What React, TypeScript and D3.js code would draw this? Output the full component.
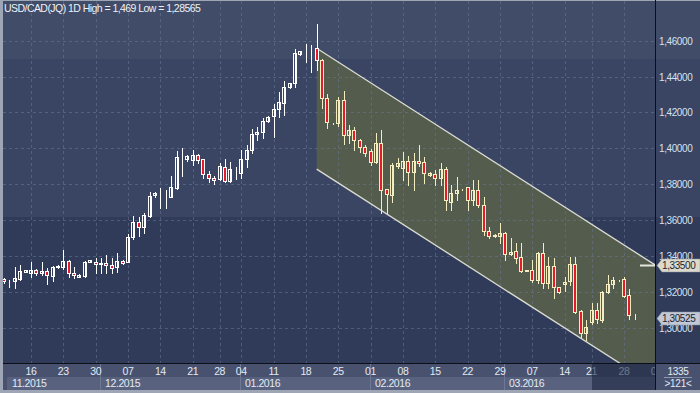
import React from "react";
import * as d3 from "d3";

const TITLE = "USD/CAD(JQ) 1D High = 1,469 Low = 1,28565";
const START_DATE = "2015-11-10";
const HOLIDAYS = ["2015-12-25", "2016-01-01", "2016-01-03", "2016-03-20"];
const FUTURE_DAYS = 4;

const OPEN = [
  1.3270, 1.3255, 1.3262, 1.3273, 1.3312, 1.3306, 1.3320, 1.3305, 1.3314, 1.3290,
  1.3336, 1.3336, 1.3372, 1.3306, 1.3284, 1.3288, 1.3368, 1.3364, 1.3353, 1.3360,
  1.3349, 1.3336, 1.3370, 1.3368, 1.3507, 1.3587, 1.3563, 1.3623, 1.3738, 1.3733,
  1.3735, 1.3730, 1.3780, 1.3950, 1.3942, 1.3935, 1.3963, 1.3939, 1.3857, 1.3833,
  1.3827, 1.3897, 1.3819, 1.3882, 1.3861, 1.3939, 1.3991, 1.4078, 1.4093, 1.4151,
  1.4180, 1.4221, 1.4254, 1.4344, 1.4362, 1.4526, 1.4562, 1.4566, 1.4558, 1.4492,
  1.4279, 1.4139, 1.4139, 1.4269, 1.4074, 1.4102, 1.4046, 1.4009, 1.3987, 1.3925,
  1.4028, 1.3771, 1.3740, 1.3903, 1.3889, 1.3931, 1.3870, 1.3931, 1.3922, 1.3851,
  1.3855, 1.3833, 1.3883, 1.3702, 1.3749, 1.3771, 1.3783, 1.3712, 1.3768, 1.3684,
  1.3539, 1.3511, 1.3511, 1.3529, 1.3409, 1.3427, 1.3396, 1.3316, 1.3321, 1.3266,
  1.3415, 1.3247, 1.3344, 1.3225, 1.3243, 1.3262, 1.3355, 1.3094, 1.2968, 1.3033,
  1.3098, 1.3043, 1.3200, 1.3243, 1.3264, 1.3270, 1.3180, 1.3068,
];
const HIGH = [
  1.3275, 1.3266, 1.3340, 1.3349, 1.3324, 1.3368, 1.3325, 1.3366, 1.3333, 1.3344,
  1.3348, 1.3433, 1.3377, 1.3340, 1.3300, 1.3372, 1.3378, 1.3387, 1.3387, 1.3405,
  1.3387, 1.3415, 1.3375, 1.3520, 1.3623, 1.3615, 1.3641, 1.3755, 1.3758, 1.3777,
  1.3768, 1.3846, 1.3985, 1.4000, 1.3963, 1.3991, 1.3968, 1.3942, 1.3873, 1.3847,
  1.3918, 1.3940, 1.3925, 1.3897, 1.3991, 1.4018, 1.4106, 1.4120, 1.4167, 1.4180,
  1.4247, 1.4316, 1.4377, 1.4365, 1.4554, 1.4545, 1.4582, 1.4576, 1.4690, 1.4495,
  1.4303, 1.4142, 1.4287, 1.4321, 1.4130, 1.4120, 1.4050, 1.4018, 1.3998, 1.4085,
  1.4102, 1.3775, 1.3916, 1.3946, 1.3981, 1.3957, 1.3972, 1.4018, 1.3953, 1.3866,
  1.3879, 1.3916, 1.3897, 1.3795, 1.3842, 1.3775, 1.3786, 1.3823, 1.3823, 1.3730,
  1.3559, 1.3520, 1.3582, 1.3532, 1.3500, 1.3470, 1.3470, 1.3322, 1.3377, 1.3424,
  1.3470, 1.3396, 1.3387, 1.3228, 1.3284, 1.3396, 1.3396, 1.3098, 1.3043, 1.3135,
  1.3135, 1.3205, 1.3294, 1.3284, 1.3268, 1.3284, 1.3215, 1.3075,
];
const LOW = [
  1.3247, 1.3228, 1.3219, 1.3266, 1.3308, 1.3284, 1.3294, 1.3294, 1.3243, 1.3262,
  1.3333, 1.3327, 1.3281, 1.3275, 1.3281, 1.3284, 1.3366, 1.3306, 1.3306, 1.3303,
  1.3303, 1.3312, 1.3355, 1.3366, 1.3493, 1.3511, 1.3529, 1.3619, 1.3730, 1.3669,
  1.3669, 1.3727, 1.3773, 1.3846, 1.3930, 1.3907, 1.3916, 1.3833, 1.3814, 1.3799,
  1.3823, 1.3814, 1.3814, 1.3829, 1.3837, 1.3896, 1.3975, 1.4046, 1.4056, 1.4148,
  1.4061, 1.4173, 1.4186, 1.4335, 1.4344, 1.4519, 1.4483, 1.4427, 1.4437, 1.4223,
  1.4112, 1.4136, 1.4124, 1.4024, 1.4028, 1.3991, 1.3981, 1.3959, 1.3907, 1.3918,
  1.3640, 1.3638, 1.3702, 1.3889, 1.3823, 1.3795, 1.3768, 1.3901, 1.3805, 1.3846,
  1.3795, 1.3795, 1.3656, 1.3656, 1.3712, 1.3768, 1.3656, 1.3684, 1.3675, 1.3517,
  1.3498, 1.3508, 1.3474, 1.3377, 1.3405, 1.3362, 1.3312, 1.3314, 1.3255, 1.3249,
  1.3219, 1.3219, 1.3164, 1.3195, 1.3206, 1.3238, 1.3082, 1.2950, 1.2931, 1.3022,
  1.3025, 1.3031, 1.3195, 1.3219, 1.3262, 1.3170, 1.3046, 1.3048,
];
const CLOSE = [
  1.3258, 1.3257, 1.3275, 1.3316, 1.3320, 1.3321, 1.3306, 1.3316, 1.3292, 1.3336,
  1.3344, 1.3372, 1.3303, 1.3294, 1.3294, 1.3368, 1.3376, 1.3353, 1.3359, 1.3348,
  1.3331, 1.3370, 1.3359, 1.3507, 1.3587, 1.3563, 1.3626, 1.3736, 1.3751, 1.3735,
  1.3734, 1.3783, 1.3950, 1.3951, 1.3957, 1.3963, 1.3935, 1.3855, 1.3833, 1.3822,
  1.3901, 1.3819, 1.3883, 1.3883, 1.3939, 1.3991, 1.4080, 1.4093, 1.4154, 1.4173,
  1.4221, 1.4258, 1.4344, 1.4362, 1.4530, 1.4541, 1.4563, 1.4567, 1.4490, 1.4279,
  1.4148, 1.4140, 1.4269, 1.4074, 1.4102, 1.4046, 1.4006, 1.3975, 1.3925, 1.4028,
  1.3768, 1.3744, 1.3907, 1.3916, 1.3931, 1.3870, 1.3931, 1.3916, 1.3864, 1.3861,
  1.3833, 1.3883, 1.3712, 1.3749, 1.3768, 1.3772, 1.3712, 1.3768, 1.3684, 1.3541,
  1.3511, 1.3517, 1.3530, 1.3409, 1.3424, 1.3390, 1.3318, 1.3320, 1.3266, 1.3418,
  1.3247, 1.3344, 1.3225, 1.3200, 1.3256, 1.3355, 1.3089, 1.2972, 1.3002, 1.3098,
  1.3046, 1.3200, 1.3243, 1.3266, 1.3266, 1.3176, 1.3070, 1.3072,
];

const PRICE_TICKS = [1.3, 1.32, 1.34, 1.36, 1.38, 1.4, 1.42, 1.44, 1.46];
const CHANNEL_START = 58;
const CHANNEL_UPPER = [1.4558, 1.335];
const CHANNEL_WIDTH = 0.0674;
const LAST_PRICE = 1.30525;
const BAR_INFO = ["1335", ">121<"];

const parseDay = d3.utcParse("%Y-%m-%d");
const fmtDay = d3.utcFormat("%Y-%m-%d");

function tradingDays(start: string, n: number): Date[] {
  const out: Date[] = [];
  let d = parseDay(start) as Date;
  while (out.length < n) {
    const dow = d.getUTCDay();
    if (dow !== 6 && !HOLIDAYS.includes(fmtDay(d))) out.push(d);
    d = d3.utcDay.offset(d, 1);
  }
  return out;
}

const fmtPrice = (v: number) => d3.format(".5f")(v).replace(".", ",");

export default function App() {
  const W = 700, H = 393;
  const left = 3, right = 655, top = 1, bottom = 363;
  const n = OPEN.length;
  const days = tradingDays(START_DATE, n + FUTURE_DAYS);

  const x = d3.scaleLinear().domain([-0.19, 120.77]).range([left, right]);
  const y = d3.scaleLinear().domain([1.2803, 1.4821]).range([bottom, top]);

  const font = "'Liberation Sans', Arial, sans-serif";
  const red = "#e31b2d";

  const mondays = days
    .map((d, i) => ({ d, i }))
    .filter((o) => o.d.getUTCDay() === 1);
  const monthStarts = days
    .map((d, i) => ({ d, i }))
    .filter((o, k, arr) => k === 0 || o.d.getUTCMonth() !== arr[k - 1].d.getUTCMonth())
    .filter((o) => o.i < n);

  const chEnd = x.invert(right);
  const slope = (CHANNEL_UPPER[1] - CHANNEL_UPPER[0]) / (chEnd - CHANNEL_START);
  const upper = (i: number) => CHANNEL_UPPER[0] + (i - CHANNEL_START) * slope;
  const lower = (i: number) => upper(i) - CHANNEL_WIDTH;
  const chPoly = [
    [x(CHANNEL_START), y(upper(CHANNEL_START))],
    [x(chEnd), y(upper(chEnd))],
    [x(chEnd), y(lower(chEnd))],
    [x(CHANNEL_START), y(lower(CHANNEL_START))],
  ];

  const tag = (v: number, fill: string) => {
    const yy = Math.round(y(v)) + 0.5;
    return (
      <g>
        <path d={`M${right + 2},${yy} L${right + 7},${yy - 6.5} L${W},${yy - 6.5} L${W},${yy + 6.5} L${right + 7},${yy + 6.5} Z`} fill={fill} stroke="#8a93a6" strokeWidth={0.5} />
        <text x={right + 7} y={yy} dy="0.35em" fontSize={10} letterSpacing={-0.4} fill="#1b2233" fontFamily={font}>{fmtPrice(v)}</text>
      </g>
    );
  };

  return (
    <svg width={W} height={H} style={{ position: "absolute", left: 0, top: 0, display: "block" }} fontFamily={font}>
      <defs>
        <clipPath id="plot">
          <rect x={left} y={top} width={right - left} height={bottom - top} />
        </clipPath>
        <clipPath id="axisx">
          <rect x={left} y={bottom} width={right - left} height={H - bottom} />
        </clipPath>
      </defs>
      <rect x={0} y={0} width={W} height={H} fill="#9ea6b6" />
      <rect x={left} y={top} width={W - left} height={59 - top} fill="#404c68" />
      <rect x={left} y={59} width={W - left} height={217 - 59} fill="#394563" />
      <rect x={left} y={217} width={W - left} height={bottom - 217} fill="#2f3b58" />
      <rect x={left} y={bottom} width={W - left} height={390 - bottom} fill="#48526f" />

      <g clipPath="url(#plot)">
        <polygon points={chPoly.map((p) => p.join(",")).join(" ")} fill="#535c4d" />
      </g>

      <g clipPath="url(#plot)" stroke="#6a7895" strokeOpacity={0.55} strokeDasharray="3,3" strokeWidth={1}>
        {PRICE_TICKS.map((t) => (
          <line key={t} x1={left} x2={right} y1={Math.round(y(t)) + 0.5} y2={Math.round(y(t)) + 0.5} />
        ))}
        {mondays.map((m) => (
          <line key={m.i} x1={Math.round(x(m.i)) + 0.5} x2={Math.round(x(m.i)) + 0.5} y1={top} y2={bottom} />
        ))}
      </g>

      <g clipPath="url(#plot)" stroke="#dcdcd2" strokeWidth={1.3}>
        <line x1={chPoly[0][0]} y1={chPoly[0][1]} x2={chPoly[1][0]} y2={chPoly[1][1]} />
        <line x1={chPoly[3][0]} y1={chPoly[3][1]} x2={chPoly[2][0]} y2={chPoly[2][1]} />
      </g>

      <g clipPath="url(#plot)">
        {OPEN.map((o, i) => {
          const c = CLOSE[i];
          const cx = Math.round(x(i));
          const col = i > CHANNEL_START ? "#f4edc0" : "#ffffff";
          const yt = Math.round(y(Math.max(o, c)));
          const yb = Math.round(y(Math.min(o, c)));
          const bear = c < o;
          return (
            <g key={i}>
              <line x1={cx + 0.5} x2={cx + 0.5} y1={Math.round(y(HIGH[i]))} y2={Math.round(y(LOW[i])) + 1} stroke={col} strokeWidth={1} />
              <rect x={cx - 1.5} y={yt + 0.5} width={3} height={Math.max(0, yb - yt)} fill={bear ? red : "none"} stroke={col} strokeWidth={1} />
            </g>
          );
        })}
      </g>

      <line x1={right + 0.5} x2={right + 0.5} y1={0} y2={390} stroke="#0c0f18" strokeWidth={1} />
      <line x1={left} x2={W} y1={bottom + 0.5} y2={bottom + 0.5} stroke="#0c0f18" strokeWidth={1} />

      <g clipPath="url(#axisx)">
        {monthStarts.map((m, k) => {
          const x0 = k === 0 ? Math.round(x(m.i)) + 3 : Math.round(x(m.i)) - 1;
          const next = monthStarts[k + 1];
          const x1 = next ? Math.round(x(next.i)) - 1 : right;
          return (
            <g key={m.i}>
              <rect x={x0} y={377} width={x1 - x0} height={13} fill="#58627e" />
              {k > 0 && <line x1={x0 + 0.5} x2={x0 + 0.5} y1={bottom + 1} y2={390} stroke="#6e7894" />}
              <text x={x0 + 5} y={387} fontSize={10.5} letterSpacing={-0.4} fill="#e4eaf4">{d3.utcFormat("%m.%Y")(m.d)}</text>
            </g>
          );
        })}
        {mondays.map((m) => (
          <text key={m.i} x={x(m.i)} y={375} textAnchor="middle" fontSize={10.5} letterSpacing={-0.4} fill="#e4eaf4">
            {d3.utcFormat("%d")(m.d)}
          </text>
        ))}
        <rect x={592} y={bottom + 1} width={right - 592} height={26} fill="#1d2740" fillOpacity={0.6} />
      </g>

      {PRICE_TICKS.map((t) => (
        <text key={t} x={right + 4} y={Math.round(y(t)) + 0.5} dy="0.35em" fontSize={10} letterSpacing={-0.4} fill="#d6e0f2">
          {fmtPrice(t)}
        </text>
      ))}

      <line x1={640} x2={right} y1={Math.round(y(CHANNEL_UPPER[1])) + 0.5} y2={Math.round(y(CHANNEL_UPPER[1])) + 0.5} stroke="#e6e6e0" strokeWidth={2} />
      {tag(CHANNEL_UPPER[1], "#dcdacb")}
      {tag(LAST_PRICE, "#c2c9d4")}

      <text x={678} y={375} textAnchor="middle" fontSize={10} letterSpacing={-0.3} fill="#e4eaf4">{BAR_INFO[0]}</text>
      <line x1={664} x2={692} y1={377.5} y2={377.5} stroke="#8d97b0" />
      <text x={678} y={387} textAnchor="middle" fontSize={10} letterSpacing={-0.3} fill="#e4eaf4">{BAR_INFO[1]}</text>

      <text x={4} y={12} fontSize={10.5} letterSpacing={-0.55} fill="#eef1f7">{TITLE}</text>
    </svg>
  );
}
